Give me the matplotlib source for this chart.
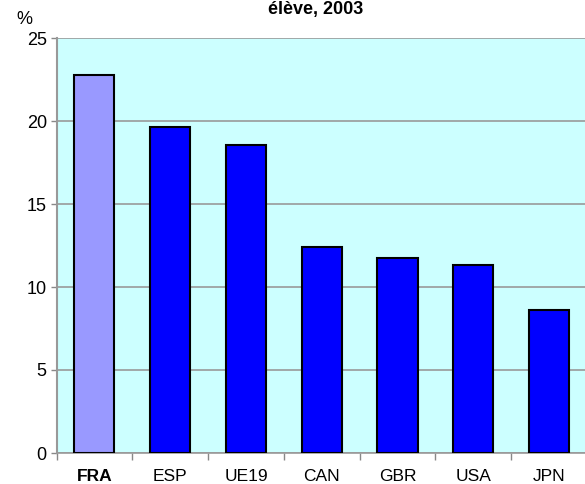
import matplotlib
matplotlib.use("Agg")
import matplotlib.pyplot as plt
import numpy as np

plt.rcParams['font.family'] = ['Liberation Sans', 'DejaVu Sans']

categories = ["FRA", "ESP", "UE19", "CAN", "GBR", "USA", "JPN"]
values = [22.8, 19.65, 18.55, 12.4, 11.75, 11.3, 8.6]
colors = ["#9999FF", "#0000FF", "#0000FF", "#0000FF", "#0000FF", "#0000FF", "#0000FF"]
yticks = [0, 5, 10, 15, 20, 25]

fig = plt.figure(figsize=(5.85, 4.84), dpi=100)
# plot area: x 56.5..587 px, y 38..453 px
ax = fig.add_axes([56.5 / 585, 31 / 484, 530.5 / 585, 415 / 484])
ax.set_facecolor("#CCFFFF")

x = np.arange(len(categories))
ax.bar(x, values, width=0.53, color=colors, edgecolor="black", linewidth=1.5, zorder=3)

ax.set_xlim(-0.5, len(categories) - 0.5)
ax.set_ylim(0, 25)
ax.set_yticks(yticks)
ax.set_yticklabels([str(t) for t in yticks], fontsize=13)
ax.yaxis.grid(True, color="#999999", linewidth=1.2, zorder=1)
ax.tick_params(axis="y", colors="#888888", labelcolor="black", length=4, width=1, pad=3)

ax.set_xticks(np.arange(len(categories) + 1) - 0.5)
ax.set_xticklabels([])
ax.tick_params(axis="x", colors="#888888", length=5, width=1)
for i, c in enumerate(categories):
    ax.text(i, -16 / 415, c, transform=ax.get_xaxis_transform(), ha="center", va="top",
            fontsize=12.5, fontweight="bold" if c == "FRA" else "normal")

for s in ["top", "right"]:
    ax.spines[s].set_visible(False)
ax.spines["left"].set_color("#999999")
ax.spines["left"].set_linewidth(1.5)
ax.spines["bottom"].set_color("#999999")
ax.spines["bottom"].set_linewidth(1.2)

fig.text(16 / 585, 1 - 20 / 484, "%", fontsize=13, ha="left", va="center")
fig.text(316 / 585, 0.998, "élève, 2003", fontsize=13, fontweight="bold", ha="center", va="top")

fig.savefig("out.png", dpi=100)
